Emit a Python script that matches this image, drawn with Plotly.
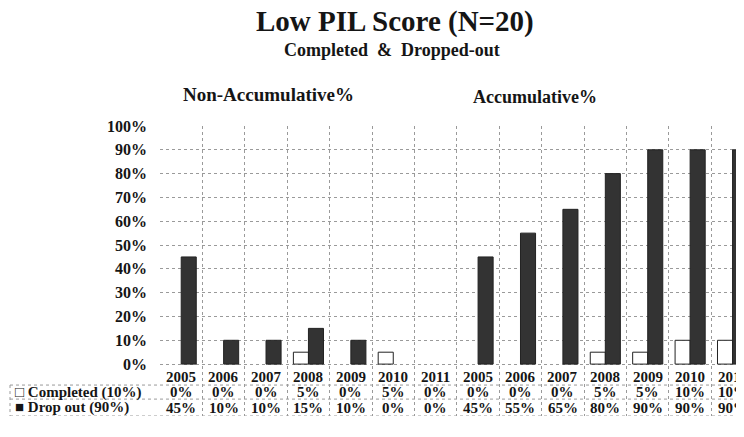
import plotly.graph_objects as go

# ---- data ----
years = ["2005", "2006", "2007", "2008", "2009", "2010", "2011"]
col_years = years + years
non_acc_completed = [0, 0, 0, 5, 0, 5, 0]
non_acc_dropout = [45, 10, 10, 15, 10, 0, 0]
acc_completed = [0, 0, 0, 5, 5, 10, 10]
acc_dropout = [45, 55, 65, 80, 90, 90, 90]
completed = non_acc_completed + acc_completed
dropout = non_acc_dropout + acc_dropout
series_names = ["Completed (10%)", "Drop out (90%)"]
y_ticks = list(range(0, 101, 10))

# page has an 8px body margin, so figure coords = screen coords - 8
OFF = 8
W, H = 744 - OFF, 437 - OFF
L, R_EDGE, T, B = 160 - OFF, 744 - OFF, 126 - OFF, 416 - OFF
SERIF = "Liberation Serif, Times New Roman, serif"
DARK = "#333333"
GRID = "#9a9a9a"
TXT = "#151515"

def px_x(s):  # screen x -> paper x
    return (s - OFF - L) / (R_EDGE - L)

def px_y(s):  # screen y -> paper y
    return (B - (s - OFF)) / (B - T)

xs = list(range(len(col_years)))

fig = go.Figure()
fig.add_trace(go.Bar(
    x=xs, y=completed, name=series_names[0],
    marker=dict(color="white",
                line=dict(color="#222222", width=[0 if v == 0 else 1 for v in completed])),
))
fig.add_trace(go.Bar(
    x=xs, y=dropout, name=series_names[1],
    marker=dict(color=DARK,
                line=dict(color="#222222", width=[0 if v == 0 else 1 for v in dropout])),
))

# table rows (data units below zero)
row_year, row_comp, row_drop = -5.4, -11.8, -18.4
line_top, line_mid, line_bot = -8.8, -14.7, -21.8

cell_font = dict(family=SERIF, size=15, color=TXT)
annotations = []
for i, yr in enumerate(col_years):
    annotations.append(dict(x=i, y=row_year, xref="x", yref="y", text=f"<b>{yr}</b>",
                            showarrow=False, font=cell_font))
    annotations.append(dict(x=i, y=row_comp, xref="x", yref="y", text=f"<b>{completed[i]}%</b>",
                            showarrow=False, font=cell_font))
    annotations.append(dict(x=i, y=row_drop, xref="x", yref="y", text=f"<b>{dropout[i]}%</b>",
                            showarrow=False, font=cell_font))

annotations.append(dict(x=px_x(13), y=row_comp, xref="paper", yref="y", xanchor="left",
                        text=f"<b>\u25a1 {series_names[0]}</b>", showarrow=False,
                        font=dict(family=SERIF, size=15, color=TXT)))
annotations.append(dict(x=px_x(13), y=row_drop, xref="paper", yref="y", xanchor="left",
                        text=f"<b>\u25a0 {series_names[1]}</b>", showarrow=False,
                        font=dict(family=SERIF, size=15, color=TXT)))

# titles
annotations.append(dict(x=px_x(268), y=px_y(95), xref="paper", yref="paper",
                        xanchor="center", yanchor="middle",
                        text="<b>Non-Accumulative%</b>", showarrow=False,
                        font=dict(family=SERIF, size=19, color=TXT)))
annotations.append(dict(x=px_x(535), y=px_y(97), xref="paper", yref="paper",
                        xanchor="center", yanchor="middle",
                        text="<b>Accumulative%</b>", showarrow=False,
                        font=dict(family=SERIF, size=18, color=TXT)))
annotations.append(dict(x=px_x(392), y=px_y(50), xref="paper", yref="paper",
                        xanchor="center", yanchor="middle",
                        text="<b>Completed  &  Dropped-out</b>", showarrow=False,
                        font=dict(family=SERIF, size=18, color=TXT)))
annotations.append(dict(x=px_x(395), y=px_y(22), xref="paper", yref="paper",
                        xanchor="center", yanchor="middle",
                        text="<b>Low PIL Score (N=20)</b>", showarrow=False,
                        font=dict(family=SERIF, size=29, color=TXT)))

shapes = []
for yv in (line_top, line_mid, line_bot):
    shapes.append(dict(type="line", xref="paper", yref="y", x0=px_x(10), x1=1, y0=yv, y1=yv,
                       line=dict(color=GRID, width=1, dash="dot")))
shapes.append(dict(type="line", xref="paper", yref="y", x0=px_x(10), x1=px_x(10),
                   y0=line_top, y1=line_bot, line=dict(color=GRID, width=1, dash="dot")))

fig.update_layout(
    width=W, height=H,
    margin=dict(l=L, r=W - R_EDGE, t=T, b=H - B),
    paper_bgcolor="white", plot_bgcolor="white",
    barmode="group", bargap=0.29, bargroupgap=0.0,
    showlegend=False,
    annotations=annotations, shapes=shapes,
    xaxis=dict(range=[-0.5, 13.27], tickvals=[i - 0.5 for i in range(len(col_years) + 1)],
               showticklabels=False, showgrid=True, gridcolor=GRID, griddash="dot",
               gridwidth=1, zeroline=False, showline=False, ticks=""),
    yaxis=dict(range=[line_bot, 100], tickvals=y_ticks, ticktext=[f"{v}%" for v in y_ticks],
               showgrid=True, gridcolor=GRID, griddash="dot", gridwidth=1,
               zeroline=False, showline=False, ticks="", ticklabelstandoff=12,
               tickfont=dict(family=SERIF, size=16, color=TXT, weight="bold")),
)

fig.write_html("out.html")
